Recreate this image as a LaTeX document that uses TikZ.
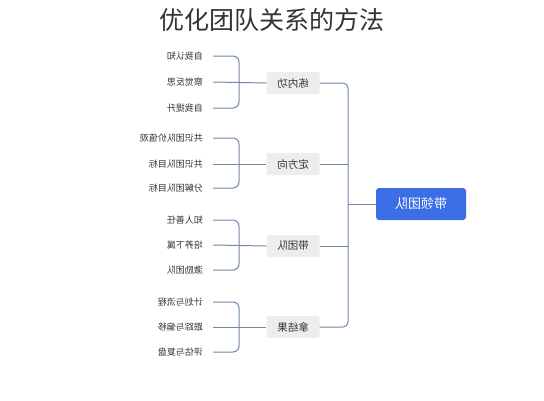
\documentclass[tikz,border=0pt]{standalone}
\usepackage{fontspec}
\usepackage{graphicx}
\newfontfamily\cjk{Noto Sans CJK SC}
\definecolor{linec}{HTML}{6F88A6}
\definecolor{boxc}{HTML}{EDEDED}
\definecolor{rootc}{HTML}{3C6FE6}
\definecolor{txtc}{HTML}{333333}
\tikzset{
  leaf/.style={anchor=east, inner xsep=0pt, inner ysep=1pt, text=txtc, font=\cjk\fontsize{9}{10}\selectfont},
  mainbox/.style={fill=boxc, rounded corners=2pt, minimum width=53pt, minimum height=22pt, inner sep=0pt, text=txtc, font=\cjk\fontsize{10.5}{12}\selectfont},
  rootbox/.style={fill=rootc, rounded corners=3pt, minimum width=90pt, minimum height=32pt, inner sep=0pt, text=white, font=\cjk\fontsize{13}{15}\selectfont},
  link/.style={draw=linec, line width=1pt},
}
\newcommand{\mir}[1]{\reflectbox{#1}}
\begin{document}
\begin{tikzpicture}[x=1pt,y=-1pt]
\useasboundingbox (0,0) rectangle (544,400);
\node[text=txtc, font=\cjk\fontsize{25}{28}\selectfont, inner sep=0pt] (title) at (272,20) {优化团队关系的方法};
\node[rootbox] (root) at (421,204) {\mir{带领团队}};
\coordinate (J) at (348,204);
% main nodes
\node[mainbox] (m1) at (293,83) {\mir{练内功}};
\node[mainbox] (m2) at (293,164) {\mir{定方向}};
\node[mainbox] (m3) at (293,246) {\mir{带团队}};
\node[mainbox] (m4) at (293,327) {\mir{拿结果}};
% leaves
\node[leaf] (a1) at (203,56) {\mir{自我认知}};
\node[leaf] (a2) at (203,82) {\mir{察觉反思}};
\node[leaf] (a3) at (203,108) {\mir{自我提升}};
\node[leaf] (b1) at (203,138) {\mir{共识团队价值观}};
\node[leaf] (b2) at (203,164) {\mir{共识团队目标}};
\node[leaf] (b3) at (203,188) {\mir{分解团队目标}};
\node[leaf] (c1) at (203,220) {\mir{知人善任}};
\node[leaf] (c2) at (203,245) {\mir{培养下属}};
\node[leaf] (c3) at (203,270) {\mir{激励团队}};
\node[leaf] (d1) at (203,302) {\mir{计划与流程}};
\node[leaf] (d2) at (203,327) {\mir{跟踪与偏移}};
\node[leaf] (d3) at (203,352) {\mir{评估与复盘}};
% brackets
\foreach \g/\m in {a/m1,b/m2,c/m3,d/m4}{
  \coordinate (k\g) at (239,0);
  \draw[link, rounded corners=6pt] ([xshift=10pt]\g1.east) -| (k\g |- \g2.east) |- ([xshift=10pt]\g3.east);
  \draw[link] ([xshift=10pt]\g2.east) -- (\m.west);
}
% root connectors
\draw[link, rounded corners=5pt] (m1.east) -| (J) |- (m4.east);
\draw[link] (m2.east) -- (m2.east -| J);
\draw[link] (m3.east) -- (m3.east -| J);
\draw[link] (J) -- (root.west);
\end{tikzpicture}
\end{document}
